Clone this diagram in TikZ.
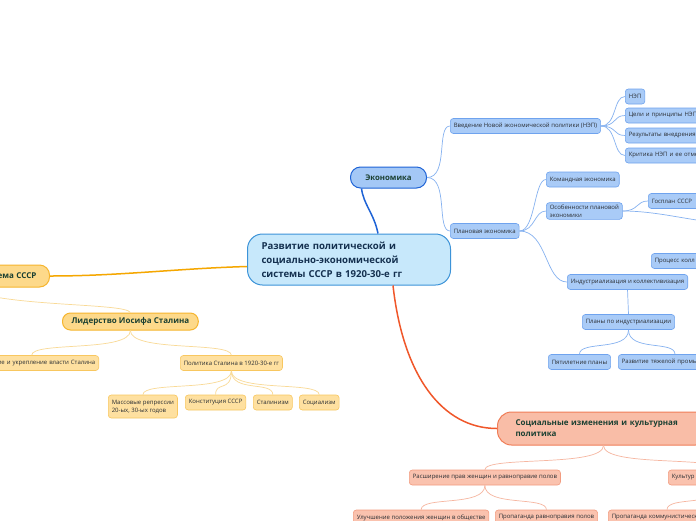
\documentclass[tikz,border=0pt]{standalone}
\usepackage{fontspec}
\setmainfont{Open Sans}

\definecolor{rootfill}{HTML}{C7E8FB}
\definecolor{rootline}{HTML}{3C93D8}
\definecolor{rootink}{HTML}{14304F}
\definecolor{topicink}{HTML}{1B4032}
\definecolor{leafink}{HTML}{2A2E33}
\definecolor{ecofill}{HTML}{A4C8F6}
\definecolor{ecoline}{HTML}{1E63D6}
\definecolor{ecoleaf}{HTML}{A9CBF7}
\definecolor{ecoleafline}{HTML}{6FA3EE}
\definecolor{ecowire}{HTML}{86B2F0}
\definecolor{polfill}{HTML}{FDD98A}
\definecolor{polline}{HTML}{F6B52E}
\definecolor{polleaf}{HTML}{FEE0A0}
\definecolor{polleafline}{HTML}{F8C760}
\definecolor{polwire}{HTML}{F9DA96}
\definecolor{polmain}{HTML}{F5A700}
\definecolor{socfill}{HTML}{F9BDA7}
\definecolor{socline}{HTML}{F07E58}
\definecolor{socleaf}{HTML}{FAC2AE}
\definecolor{socleafline}{HTML}{F29C80}
\definecolor{socwire}{HTML}{F6B6A0}
\definecolor{socmain}{HTML}{F0572A}

\begin{document}
\begin{tikzpicture}[x=1pt, y=-1pt,
	leaf/.style={draw, rounded corners=3pt, line width=0.6pt, anchor=west,
		font=\fontsize{6}{8}\selectfont, text=leafink, inner xsep=3.5pt, inner ysep=2pt, minimum height=15pt},
	eleaf/.style={leaf, fill=ecoleaf, draw=ecoleafline},
	pleaf/.style={leaf, fill=polleaf, draw=polleafline},
	sleaf/.style={leaf, fill=socleaf, draw=socleafline},
	topic/.style={draw, line width=1pt, anchor=west, font=\fontsize{8}{11}\selectfont\bfseries, text=topicink},
	ewire/.style={ecowire, line width=0.7pt},
	pwire/.style={polwire, line width=0.7pt},
	swire/.style={socwire, line width=0.7pt}]
	\useasboundingbox[fill=white] (0,0) rectangle (696,520);

	% centre
	\node[draw=rootline, fill=rootfill, line width=1pt, rounded corners=15pt, anchor=west,
		font=\fontsize{9.6}{14}\selectfont\bfseries, text=rootink, align=left,
		inner xsep=14pt, text width=175pt, minimum height=51pt] (root) at (247,259.5)
		{Развитие политической и\\социально-экономической\\системы СССР в 1920-30-е гг};

	% economy
	\node[topic, fill=ecofill, draw=ecoline, rounded corners=10pt, font=\fontsize{7.8}{10}\selectfont\bfseries,
		minimum width=76pt, minimum height=21pt] (eco) at (350,177.5) {Экономика};
	\node[eleaf] (ve) at (450,126) {Введение Новой экономической политики (НЭП)};
	\node[eleaf] (nep) at (625,96.5) {НЭП};
	\node[eleaf, text width=80pt] (goals) at (625,115.5) {Цели и принципы НЭП};
	\node[eleaf, text width=80pt] (res) at (625,135.5) {Результаты внедрения};
	\node[eleaf, text width=80pt] (crit) at (625,155.5) {Критика НЭП и ее отме};
	\node[eleaf] (plan) at (450,231) {Плановая экономика};
	\node[eleaf] (cmd) at (546,179.5) {Командная экономика};
	\node[eleaf, align=left] (osn) at (546,211) {Особенности плановой\\экономики};
	\node[eleaf, text width=45pt] (gos) at (648,201) {Госплан СССР};
	\node[eleaf, text width=80pt] (proc) at (651,261) {Процесс колл};
	\node[eleaf] (ind) at (567,282) {Индустриализация и коллективизация};
	\node[eleaf] (plans) at (582,322) {Планы по индустриализации};
	\node[eleaf] (five) at (548,362) {Пятилетние планы};
	\node[eleaf, text width=106pt] (heavy) at (618,362) {Развитие тяжелой промы};
	\coordinate (osnx) at (740,224);
	\coordinate (procx) at (728,234);

	% politics
	\node[topic, fill=polfill, draw=polline, rounded corners=10pt, anchor=east, align=right,
		text width=150pt, inner xsep=13pt, minimum height=22pt] (sys) at (50,276) {ема СССР};
	\node[topic, fill=polfill, draw=polline, rounded corners=8pt, minimum height=17pt,
		inner xsep=9pt] (lid) at (62,321.5) {Лидерство Иосифа Сталина};
	\node[pleaf, anchor=east, align=right, text width=127pt] (ust) at (99,363) {ие и укрепление власти Сталина};
	\node[pleaf] (polit) at (180,363) {Политика Сталина в 1920-30-е гг};
	\node[pleaf, align=left, minimum height=23pt] (rep) at (108,406.5) {Массовые репрессии\\20-ых, 30-ых годов};
	\node[pleaf] (konst) at (185,402.5) {Конституция СССР};
	\node[pleaf] (stal) at (253,402.5) {Сталинизм};
	\node[pleaf] (soci) at (299,402.5) {Социализм};

	% society
	\node[topic, fill=socfill, draw=socline, rounded corners=14pt, align=left, inner xsep=18pt,
		text width=176pt, minimum height=33pt] (soc) at (497,428.5) {Социальные изменения и культурная\\политика};
	\node[sleaf] (rights) at (409,477.5) {Расширение прав женщин и равноправие полов};
	\node[sleaf, text width=97pt] (cult) at (668,477.5) {Культур};
	\node[sleaf] (wom) at (353,517.5) {Улучшение положения женщин в обществе};
	\node[sleaf] (prop) at (495,517.5) {Пропаганда равноправия полов};
	\node[sleaf, text width=111pt] (comm) at (608,517.5) {Пропаганда коммунистическ};

	% main branches
	\draw[ecoline, line width=1.5pt] ([xshift=29pt]root.north) .. controls +(-4,-20) and +(2,16) .. ([xshift=-27pt]eco.south);
	\draw[polmain, line width=1.5pt] ([yshift=-7pt]root.west) .. controls +(-70,2) and +(70,0) .. (sys.east);
	\draw[socmain, line width=1.5pt] ([xshift=44pt]root.south) .. controls +(10,90) and +(-55,0) .. (soc.west);

	% economy wires
	\draw[ewire] (eco.east) .. controls +(22,0) and +(-14,0) .. (ve.west);
	\draw[ewire] (eco.east) .. controls +(22,0) and +(-14,0) .. (plan.west);
	\draw[ewire] (ve.east) .. controls +(16,0) and +(-12,0) .. (nep.west);
	\draw[ewire] (ve.east) .. controls +(16,0) and +(-12,0) .. (goals.west);
	\draw[ewire] (ve.east) .. controls +(16,0) and +(-12,0) .. (res.west);
	\draw[ewire] (ve.east) .. controls +(16,0) and +(-12,0) .. (crit.west);
	\draw[ewire] (plan.east) .. controls +(16,0) and +(-12,0) .. (cmd.west);
	\draw[ewire] (plan.east) .. controls +(16,0) and +(-12,0) .. (osn.west);
	\draw[ewire] (plan.east) .. controls +(28,0) and +(-22,0) .. (ind.west);
	\draw[ewire] (osn.east) .. controls +(16,0) and +(-12,0) .. (gos.west);
	\draw[ewire] (osn.east) .. controls +(40,0) and +(-40,0) .. (osnx);
	\draw[ewire] (procx) .. controls +(-20,3) and +(0,-10) .. ([xshift=48pt]proc.north west);
	\draw[ewire] (ind.south) -- (plans.north);
	\draw[ewire] (plans.south) .. controls +(0,22) and +(0,-14) .. (five.north);
	\draw[ewire] (plans.south) .. controls +(0,22) and +(0,-14) .. ([xshift=57pt]heavy.north west);

	% politics wires
	\draw[pwire] (sys.south) .. controls +(40,20) and +(-5,-10) .. (lid.north);
	\draw[pwire] (lid.south) .. controls +(0,22) and +(0,-14) .. (ust.north);
	\draw[pwire] (lid.south) .. controls +(0,22) and +(0,-14) .. (polit.north);
	\draw[pwire] (polit.south) .. controls +(0,22) and +(0,-14) .. (rep.north);
	\draw[pwire] (polit.south) .. controls +(0,22) and +(0,-14) .. (konst.north);
	\draw[pwire] (polit.south) .. controls +(0,22) and +(0,-14) .. (stal.north);
	\draw[pwire] (polit.south) .. controls +(0,22) and +(0,-14) .. (soci.north);

	% society wires
	\draw[swire] (soc.south) .. controls +(0,22) and +(0,-14) .. (rights.north);
	\draw[swire] (soc.south) .. controls +(0,22) and +(0,-14) .. (cult.north);
	\draw[swire] (rights.south) .. controls +(0,22) and +(0,-14) .. (wom.north);
	\draw[swire] (rights.south) .. controls +(0,22) and +(0,-14) .. (prop.north);
	\draw[swire] (cult.south) .. controls +(0,22) and +(0,-14) .. ([xshift=59pt]comm.north west);
\end{tikzpicture}
\end{document}
